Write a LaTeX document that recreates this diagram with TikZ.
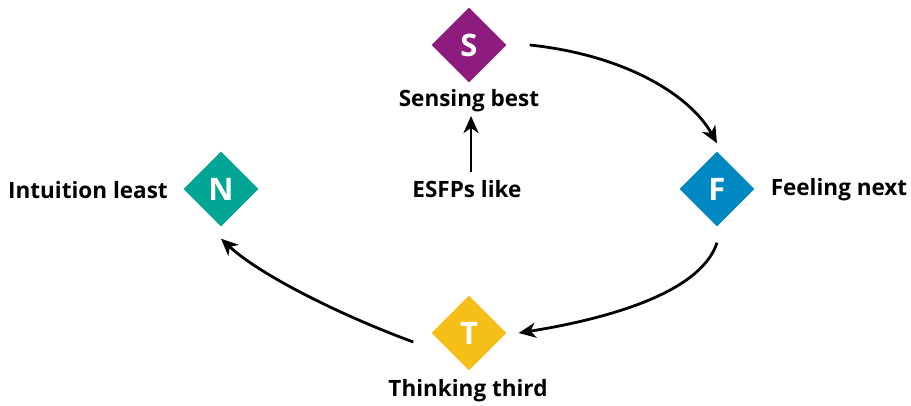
\documentclass[tikz,border=0pt]{standalone}
\usepackage{fontspec}
\setmainfont{Open Sans}
\usetikzlibrary{shapes.geometric,arrows.meta}
\definecolor{cS}{HTML}{8E1B7E}
\definecolor{cF}{HTML}{0088C2}
\definecolor{cN}{HTML}{00A594}
\definecolor{cT}{HTML}{F5BE18}
\tikzset{
  dia/.style={diamond,inner sep=0pt,minimum width=75pt,minimum height=75pt,text=white,font=\fontsize{31}{31}\selectfont\bfseries},
  lbl/.style={font=\fontsize{22.5}{24}\selectfont\bfseries,text=black,inner sep=0pt},
  arr/.style={line width=2.8pt,-{Stealth[length=17pt,width=15pt,inset=5pt]}}
}
\begin{document}
\begin{tikzpicture}[x=1pt,y=-1pt]
\useasboundingbox (0,0) rectangle (911,405);
\node[dia,fill=cS] (S) at (469,45) {S};
\node[dia,fill=cF] (F) at (717,189) {F};
\node[dia,fill=cN] (N) at (221,189) {N};
\node[dia,fill=cT] (T) at (469,333) {T};
\node[lbl] (ls) at (469,101) {Sensing best};
\node[lbl] (lf) at (839,190) {Feeling next};
\node[lbl] (ln) at (88,190) {Intuition least};
\node[lbl] (lt) at (468,391) {Thinking third};
\node[lbl] (le) at (467,189) {ESFPs like};
\coordinate (a1) at ([xshift=23pt]S.east);
\coordinate (a2) at ([yshift=8pt]F.north);
\coordinate (b1) at ([yshift=-16pt]F.south);
\coordinate (b2) at ([xshift=12pt]T.east);
\coordinate (c1) at ([xshift=-18pt,yshift=-9pt]T.west);
\coordinate (c2) at ([yshift=-12pt]N.south);
\draw[arr] (a1) .. controls (625,55) and (690,95) .. (a2);
\draw[arr] (b1) .. controls (700,295) and (600,320) .. (b2);
\draw[arr] (c1) .. controls (340,315) and (260,275) .. (c2);
\draw[arr] (471,172) -- (471,116);
\end{tikzpicture}
\end{document}
